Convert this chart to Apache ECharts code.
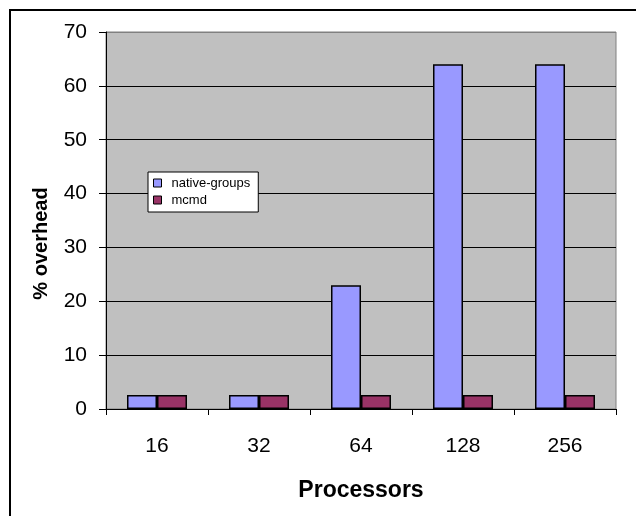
<!DOCTYPE html>
<html>
<head>
<meta charset="utf-8">
<script src="https://cdn.jsdelivr.net/npm/echarts@6/dist/echarts.min.js"></script>
<style>
  html, body { margin: 0; padding: 0; background: #ffffff; }
  #chart { width: 636px; height: 516px; }
</style>
</head>
<body>
<div id="chart"></div>
<script>
// Processor counts on the x axis
const categories = ['16', '32', '64', '128', '256'];
// Percent overhead per approach
const nativeGroups = [2.6, 2.6, 23, 64, 64];
const mcmd = [2.6, 2.6, 2.6, 2.6, 2.6];
// Value axis settings
const yMin = 0, yMax = 70, yStep = 10;

const font = '"Liberation Sans", Arial, sans-serif';
const chart = echarts.init(document.getElementById('chart'), null, { renderer: 'canvas' });

// one colour per split line; the topmost sits on the plot frame
const splitColors = [];
for (let v = yMin; v <= yMax; v += yStep) splitColors.push(v === yMax ? '#808080' : '#000000');

chart.setOption({
  animation: false,
  backgroundColor: '#ffffff',
  textStyle: { fontFamily: font },
  graphic: [{
    type: 'rect',
    shape: { x: 10, y: 10, width: 700, height: 600 },
    style: { fill: 'none', stroke: '#000000', lineWidth: 2 },
    z: 100
  }],
  grid: {
    left: 106, top: 32, right: 20, bottom: 107,
    show: true, backgroundColor: '#C0C0C0', borderColor: '#808080', borderWidth: 1
  },
  legend: {
    orient: 'vertical',
    left: 148, top: 172,
    backgroundColor: '#ffffff',
    borderColor: '#000000', borderWidth: 1,
    padding: [4, 8, 5, 5],
    itemWidth: 8, itemHeight: 8, itemGap: 3,
    icon: 'rect',
    itemStyle: { borderColor: '#000000', borderWidth: 1 },
    textStyle: { fontFamily: font, fontSize: 13, color: '#000000', lineHeight: 14, padding: [0, 0, 0, 5] },
    data: ['native-groups', 'mcmd']
  },
  xAxis: {
    type: 'category',
    data: categories,
    name: 'Processors',
    nameLocation: 'middle',
    nameGap: 70,
    nameTextStyle: { fontFamily: font, fontSize: 23, fontWeight: 'bold', color: '#000000' },
    axisLine: { lineStyle: { color: '#000000', width: 1 } },
    axisTick: { show: true, length: 6, lineStyle: { color: '#000000' } },
    axisLabel: { fontFamily: font, fontSize: 21, color: '#000000', margin: 27 }
  },
  yAxis: {
    type: 'value',
    min: yMin, max: yMax, interval: yStep,
    name: '% overhead',
    nameLocation: 'middle',
    nameGap: 55,
    nameTextStyle: { fontFamily: font, fontSize: 20, fontWeight: 'bold', color: '#000000', padding: [0, 46, 0, 0] },
    axisLine: { show: true, lineStyle: { color: '#000000', width: 1 } },
    axisTick: { show: true, length: 7, lineStyle: { color: '#000000' } },
    axisLabel: { fontFamily: font, fontSize: 21, color: '#000000', margin: 19 },
    splitLine: { show: true, lineStyle: { color: splitColors, width: 1 } }
  },
  series: [
    {
      name: 'native-groups', type: 'bar', data: nativeGroups,
      barWidth: 30, barGap: '0%',
      itemStyle: { color: '#9999FF', borderColor: '#000000', borderWidth: 1.5 }
    },
    {
      name: 'mcmd', type: 'bar', data: mcmd,
      barWidth: 30, barGap: '0%',
      itemStyle: { color: '#993366', borderColor: '#000000', borderWidth: 1.5 }
    }
  ]
});
</script>
</body>
</html>
